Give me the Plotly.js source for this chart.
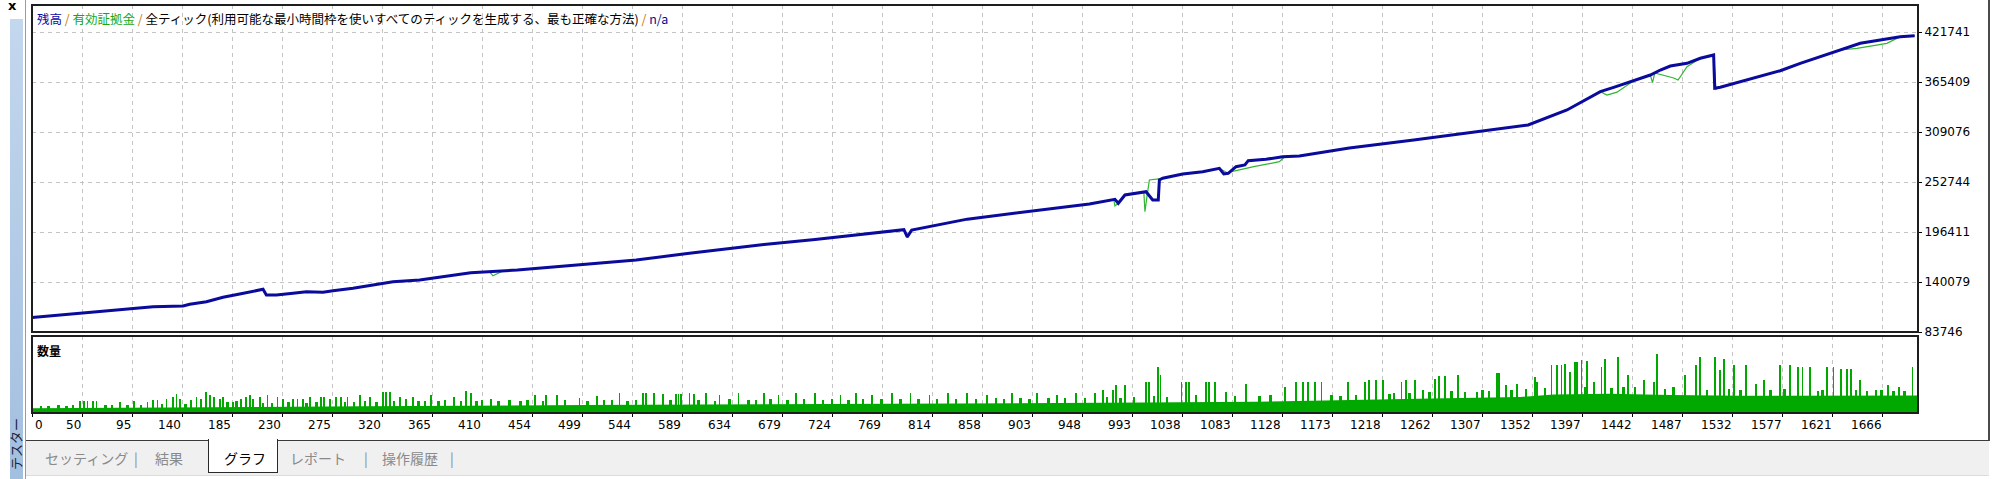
<!DOCTYPE html>
<html><head><meta charset="utf-8">
<script src="https://cdn.plot.ly/plotly-3.0.1.min.js"></script>
<style>
html,body{margin:0;padding:0;background:#fff;}
body{width:1997px;height:479px;overflow:hidden;position:relative;font-family:'Noto Sans CJK JP',sans-serif;}
#chart{position:absolute;left:0;top:0;width:1997px;height:479px;}
.ui{position:absolute;}
#sidebar{left:10px;top:19px;width:13px;height:460px;background:linear-gradient(to bottom,#c3d7ee,#a3bfdf);}
#closex{left:8px;top:-2px;font:bold 13px 'DejaVu Sans',sans-serif;color:#000;}
#vline{left:25px;top:0;width:1px;height:479px;background:#9a9a9a;}
#sidetext{left:-14px;top:437px;width:60px;height:14px;transform:rotate(-90deg);transform-origin:30px 7px;font-size:13px;color:#16223a;white-space:nowrap;line-height:14px;text-align:center;}
#tabstrip{left:26px;top:440px;width:1963px;height:34px;background:#f0f0f0;border-top:1px solid #3a3a3a;border-bottom:1px solid #dcdcdc;}
#rline{left:1988px;top:0;width:2px;height:441px;background:#4a4a4a;}
.tab{position:absolute;top:449px;font-size:14px;color:#8a8a8a;line-height:18px;white-space:nowrap;}
#active{left:208px;top:439px;width:68px;height:33px;background:#fff;border:1.5px solid #2a2a2a;border-top:none;}
</style></head><body>
<div id="chart"></div>
<div class="ui" id="vline"></div>
<div class="ui" id="sidebar"></div>
<div class="ui" id="closex">x</div>
<div class="ui" id="sidetext">テスター</div>
<div class="ui" id="rline"></div>
<div class="ui" id="tabstrip"></div>
<div class="ui" id="active"></div>
<div class="tab" style="left:45px">セッティング</div>
<div class="tab" style="left:134px">|</div>
<div class="tab" style="left:155px">結果</div>
<div class="tab" style="left:224px;color:#000">グラフ</div>
<div class="tab" style="left:290px">レポート</div>
<div class="tab" style="left:364px">|</div>
<div class="tab" style="left:382px">操作履歴</div>
<div class="tab" style="left:450px">|</div>
<script>
// ---- data ----
const xTickLabels = ['0','50','95','140','185','230','275','320','365','410','454','499','544','589','634','679','724','769','814','858','903','948','993','1038','1083','1128','1173','1218','1262','1307','1352','1397','1442','1487','1532','1577','1621','1666'];
const yTickValues = [83746,140079,196411,252744,309076,365409,421741];
const tradeCount = 1698;
const gridStep = 45.03;

const balanceTrade = [0,19,46,64,82,109,136,142,157,172,187,199,208,211,220,235,247,262,271,289,307,325,349,395,437,487,544,590,659,705,773,785,788,792,842,888,916,952,975,978,984,1003,1009,1014,1015,1018,1036,1054,1069,1073,1077,1084,1092,1095,1111,1126,1141,1186,1244,1278,1313,1347,1382,1412,1424,1442,1457,1466,1475,1490,1502,1514,1515,1520,1538,1556,1574,1592,1610,1628,1646,1664,1682,1695];
const balanceValue = [100000,102110,104814,107068,109321,112250,113039,114954,117883,122841,126559,129150,131854,125432,125432,127347,129150,128474,130277,132981,136699,140416,142332,150608,153500,159200,164900,172100,182200,187900,198000,199000,191000,198500,210900,218000,221986,227957,233253,228746,238097,241815,232464,232464,254997,256918,261757,264348,268179,261757,262500,269981,271897,276741,278318,281248,282036,291050,300063,305696,311329,316963,333862,354480,359437,366873,373295,378928,383435,386477,392110,395828,358311,359437,365746,372168,378139,386477,393913,401461,409010,412728,416446,417572];

const equityTrade = [0,19,46,64,82,109,136,142,157,172,187,199,208,211,220,235,247,262,271,289,307,325,349,395,412,415,424,437,487,544,590,659,705,773,785,788,792,842,888,916,952,974,975,978,984,1001,1002,1004,1006,1018,1036,1054,1069,1076,1100,1123,1128,1141,1186,1244,1278,1313,1347,1382,1412,1418,1427,1442,1457,1459,1461,1478,1482,1490,1502,1514,1516,1520,1538,1556,1574,1592,1610,1628,1643,1670,1682,1695];
const equityValue = [100000,102110,104814,107068,109321,112250,113039,114954,117883,122841,126559,129150,131854,125432,125432,127347,129150,128474,130277,132981,136699,140416,142332,150608,151500,147000,152500,153500,159200,164900,172100,182200,187900,198000,199000,190000,198500,210900,218000,221986,227957,232500,225704,228746,238097,241500,219282,238000,254997,256918,261757,264348,268179,263221,270000,275614,281248,282036,291050,300063,305696,311329,316963,333862,354480,350762,354000,366873,373295,364619,375550,369915,367662,382646,392110,395828,357184,359437,365746,372168,378139,386477,393913,401461,403386,409010,416446,417572];

const baseTrade = [0,100,200,300,400,500,600,700,800,900,1000,1100,1200,1260,1300,1340,1370,1420,1475,1540,1698];
const baseLots  = [0.12,0.13,0.15,0.17,0.19,0.20,0.21,0.22,0.23,0.25,0.26,0.28,0.32,0.36,0.38,0.40,0.46,0.48,0.45,0.43,0.44];

const spikeTrade = [43,47,50,55,58,79,92,104,109,113,121,127,130,133,143,148,152,157,160,164,169,172,181,188,193,196,199,205,212,221,226,235,239,244,250,260,263,268,274,278,284,295,304,316,319,322,331,337,343,
359,380,391,395,405,413,453,463,473,493,509,529,550,553,560,568,580,582,584,592,596,
607,619,636,659,672,688,705,728,742,756,774,791,808,825,842,860,882,905,923,940,957,
964,973,976,984,1003,1006,1014,1016,1035,1039,1042,1057,1060,1065,1075,1093,1128,1138,1144,1149,1155,1161,1185,1200,1204,1210,1216,
1233,1237,1245,1252,1263,1267,1272,1284,1301,1319,1321,1327,1337,1353,1355,1368,1373,1377,1380,1385,1389,1391,1395,1400,1406,1413,1416,1428,1437,1451,1460,1463,1488,1498,1502,1515,1520,1523,1532,1543,1552,1559,1574,1583,1590,1594,1601,1616,1622,1629,1634,1638,1646,1671,1681,1693];
const spikeLots = [0.29,0.29,0.29,0.29,0.29,0.28,0.29,0.28,0.32,0.32,0.36,0.40,0.48,0.36,0.32,0.40,0.36,0.52,0.44,0.40,0.36,0.40,0.28,0.36,0.40,0.44,0.36,0.40,0.44,0.40,0.36,0.36,0.36,0.36,0.40,0.40,0.40,0.36,0.40,0.40,0.40,0.44,0.40,0.52,0.52,0.52,0.40,0.36,0.40,
0.45,0.40,0.55,0.50,0.33,0.36,0.45,0.45,0.45,0.38,0.42,0.50,0.50,0.50,0.50,0.48,0.48,0.48,0.48,0.49,0.48,
0.50,0.45,0.50,0.50,0.45,0.50,0.50,0.45,0.50,0.45,0.50,0.50,0.45,0.50,0.50,0.45,0.50,0.50,0.45,0.50,0.50,
0.57,0.57,0.69,0.69,0.78,0.78,1.15,0.94,0.78,0.78,0.78,0.78,0.78,0.78,0.53,0.73,0.65,0.78,0.78,0.78,0.78,0.78,0.78,0.78,0.82,0.82,0.82,
0.78,0.82,0.82,0.57,0.86,0.93,0.93,0.96,0.53,1.01,1.01,0.69,0.73,0.90,0.78,1.19,1.19,1.19,1.23,1.03,1.28,1.28,1.32,1.30,0.78,1.15,1.36,1.40,0.96,0.82,0.78,1.47,0.94,1.19,1.40,1.40,1.07,1.36,1.19,1.19,0.73,0.82,1.19,1.19,1.15,1.15,1.15,1.15,1.15,1.11,1.11,1.11,0.82,0.69,0.65,1.15];

// small bumps along the filled base, read from the jagged edge of the volume area
const bumpTrade = [8,15,24,31,37,66,72,86,98,117,138,176,184,208,216,231,247,256,282,290,300,310,326,348,354,366,372,386,400,420,430,440,446,460,480,500,515,522,536,544,575,600,615,628,645,652,665,680,695,712,720,735,748,765,782,798,815,832,850,868,875,890,898,915,930,948,968,980,992,1010,1022,1048,1083,1105,1115,1170,1178,1192,1222,1226,1240,1258,1278,1290,1306,1312,1332,1345,1362,1398,1422,1433,1443,1470,1478,1508,1528,1538,1565,1578,1608,1612,1642,1652,1660,1665,1676,1686];
const bumpLots  = [0.18,0.17,0.19,0.18,0.20,0.20,0.19,0.21,0.20,0.22,0.23,0.27,0.30,0.25,0.26,0.27,0.26,0.27,0.28,0.27,0.29,0.28,0.30,0.31,0.30,0.30,0.32,0.31,0.30,0.31,0.32,0.30,0.33,0.31,0.32,0.31,0.33,0.32,0.31,0.33,0.32,0.33,0.31,0.34,0.33,0.32,0.34,0.33,0.34,0.33,0.35,0.33,0.34,0.36,0.34,0.35,0.34,0.36,0.35,0.37,0.36,0.38,0.36,0.37,0.38,0.37,0.40,0.38,0.41,0.42,0.40,0.44,0.43,0.42,0.44,0.45,0.42,0.46,0.48,0.50,0.49,0.52,0.55,0.53,0.58,0.56,0.58,0.60,0.62,0.64,0.62,0.66,0.64,0.60,0.66,0.58,0.60,0.58,0.57,0.59,0.56,0.58,0.57,0.56,0.58,0.57,0.55,0.56];

// ---- chart ----
const W = 1997, H = 479;
const mL = 32, mR = 79, mT = 5, mB = 66;
const plotH = H - mT - mB;           // 408
const upperDomain = [81/plotH, 1];
const lowerDomain = [0, 77/plotH];
const tickPos = xTickLabels.map((_, k) => k * gridStep);

const numFont = {family:'DejaVu Sans, sans-serif', size:12, color:'#000'};
const gridCol = '#c4c4c4';
const volGreen = '#00a800';

const traces = [
  {type:'scatter', mode:'lines', x:equityTrade, y:equityValue, xaxis:'x', yaxis:'y',
   line:{color:'#2fb52f', width:1.2}, hoverinfo:'skip'},
  {type:'scatter', mode:'lines', x:balanceTrade, y:balanceValue, xaxis:'x', yaxis:'y',
   line:{color:'#0a0a9c', width:3}, hoverinfo:'skip'},
  {type:'scatter', mode:'lines', x:baseTrade, y:baseLots, xaxis:'x2', yaxis:'y2',
   line:{color:volGreen, width:0}, fill:'tozeroy', fillcolor:volGreen, hoverinfo:'skip'},
  {type:'bar', x:bumpTrade, y:bumpLots, xaxis:'x2', yaxis:'y2', width:2.2,
   marker:{color:volGreen, line:{width:0}}, hoverinfo:'skip'},
  {type:'bar', x:spikeTrade, y:spikeLots, xaxis:'x2', yaxis:'y2', width:1.6,
   marker:{color:volGreen, line:{width:0}}, hoverinfo:'skip'}
];

const annotations = xTickLabels.map((lab, k) => ({
  xref:'x2', yref:'paper', x:tickPos[k], y:0, yshift:-12,
  xanchor: k === 0 ? 'left' : 'right', yanchor:'middle', xshift:1,
  text:lab, showarrow:false, font:numFont
}));
annotations.push({
  xref:'paper', yref:'paper', x:3/1886, y:1, yshift:-13, xanchor:'left', yanchor:'middle', showarrow:false,
  font:{family:'Noto Sans CJK JP, sans-serif', size:12.5, color:'#000'},
  text:'<span style="color:#0a0aa8">残高</span><span style="color:#c87800"> / </span><span style="color:#14a814">有効証拠金</span><span style="color:#c87800"> / </span>全ティック(利用可能な最小時間枠を使いすべてのティックを生成する、最も正確な方法)<span style="color:#c87800"> / </span><span style="color:#0a0a88">n/a</span>'
});
annotations.push({
  xref:'paper', yref:'paper', x:3/1886, y:lowerDomain[1], yshift:-14, xanchor:'left', yanchor:'middle', showarrow:false,
  font:{family:'Noto Sans CJK JP, sans-serif', size:12, color:'#000'}, text:'<b>数量</b>'
});

const layout = {
  width:W, height:H, margin:{l:mL, r:mR, t:mT, b:mB, pad:0},
  paper_bgcolor:'#fff', plot_bgcolor:'#fff', showlegend:false, barmode:'overlay',
  xaxis:{domain:[0,1], anchor:'y', range:[0,tradeCount], tickvals:tickPos, showticklabels:false,
         ticks:'', showgrid:true, gridcolor:gridCol, griddash:'4px,4px', gridwidth:1, zeroline:false, showline:false, fixedrange:true},
  yaxis:{domain:upperDomain, anchor:'x', side:'right', range:[83746,452161], tickvals:yTickValues,
         ticktext:yTickValues.map(String), ticks:'outside', ticklen:3, tickcolor:'#000', tickfont:numFont,
         showgrid:true, gridcolor:gridCol, griddash:'4px,4px', gridwidth:1, zeroline:false, showline:false, fixedrange:true},
  xaxis2:{domain:[0,1], anchor:'y2', range:[0,tradeCount], tickvals:tickPos, showticklabels:false,
          ticks:'outside', ticklen:3, tickcolor:'#000', showgrid:true, gridcolor:gridCol, griddash:'4px,4px',
          zeroline:false, showline:false, fixedrange:true},
  yaxis2:{domain:lowerDomain, anchor:'x2', range:[0,1.925], showticklabels:false, showgrid:false,
          zeroline:false, showline:false, ticks:'', fixedrange:true},
  bargap:0,
  annotations:annotations,
  shapes:[
    {type:'rect', xref:'paper', yref:'paper', x0:0, x1:1, y0:upperDomain[0], y1:1, line:{color:'#1e1e1e', width:2}, layer:'above'},
    {type:'rect', xref:'paper', yref:'paper', x0:0, x1:1, y0:lowerDomain[0], y1:lowerDomain[1], line:{color:'#1e1e1e', width:2}, layer:'above'}
  ]
};

Plotly.newPlot('chart', traces, layout, {staticPlot:true, displayModeBar:false});
</script>
</body></html>
